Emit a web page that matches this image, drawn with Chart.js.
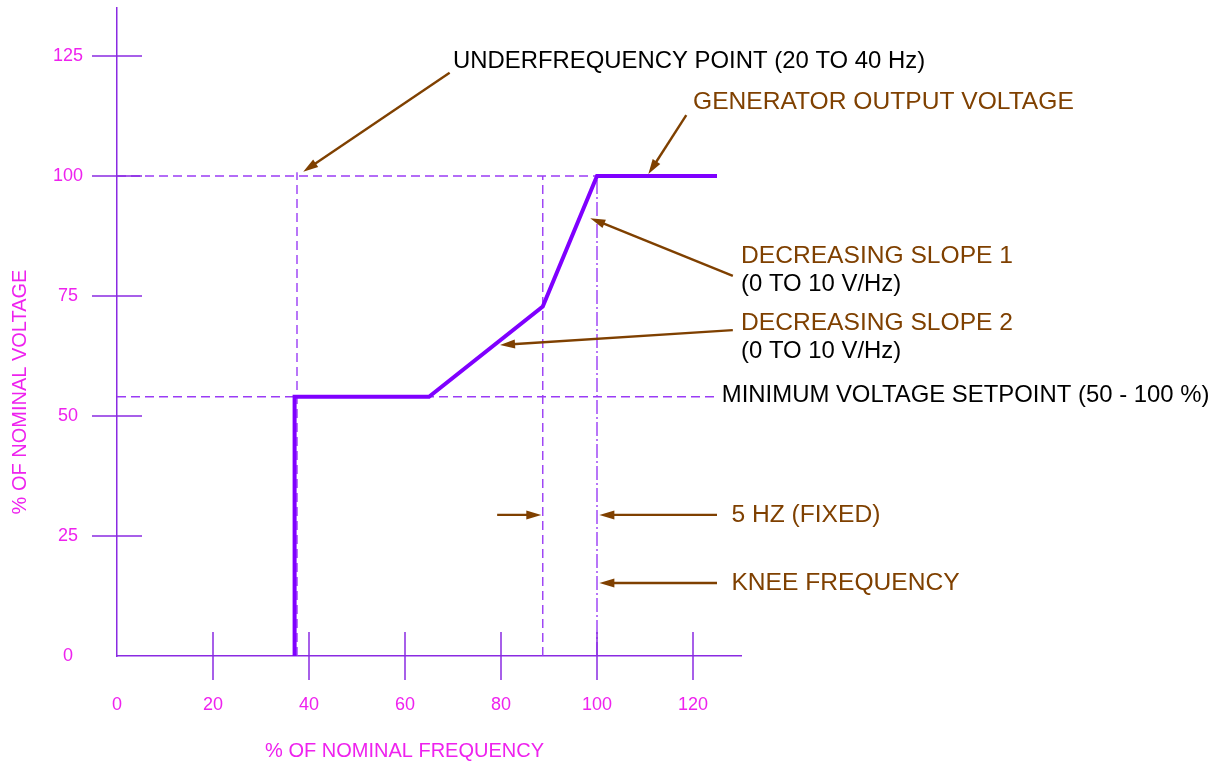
<!DOCTYPE html>
<html><head><meta charset="utf-8">
<script src="https://cdn.jsdelivr.net/npm/chart.js@4.4.0/dist/chart.umd.min.js"></script>
<style>html,body{margin:0;padding:0;background:#fff;} #wrap{width:1217px;height:763px;position:relative;}</style>
</head><body><div id="wrap"><canvas id="c" width="1217" height="763"></canvas></div>
<script>
// ---- data ----
const xTickValues = [0, 20, 40, 60, 80, 100, 120];
const yTickValues = [0, 25, 50, 75, 100, 125];
const xTickMarks = [20, 40, 60, 80, 100, 120];
const yTickMarks = [25, 50, 75, 100, 125];
const curveFreq = [37, 37, 65, 88.7, 100, 125];
const curveVolt = [0, 54, 54, 72.8, 100, 100];
const guideTopFreq = [0, 100];      const guideTopVolt = [100, 100];
const guideMinFreq = [0, 124.5];    const guideMinVolt = [54, 54];
const guideUfFreq = [37.5, 37.5];   const guideUfVolt = [0, 100.8];
const guideSlopeFreq = [88.7, 88.7]; const guideSlopeVolt = [0, 100];
const guideKneeFreq = [100, 100];   const guideKneeVolt = [0, 100];

const labelTexts = [
  {t: 'UNDERFREQUENCY POINT (20 TO 40 Hz)', x: 70, y: 123.8, c: 'k'},
  {t: 'GENERATOR OUTPUT VOLTAGE', x: 120, y: 115.4, c: 'b'},
  {t: 'DECREASING SLOPE 1', x: 130, y: 83.3, c: 'b'},
  {t: '(0 TO 10 V/Hz)', x: 130, y: 77.5, c: 'k'},
  {t: 'DECREASING SLOPE 2', x: 130, y: 69.4, c: 'b'},
  {t: '(0 TO 10 V/Hz)', x: 130, y: 63.5, c: 'k'},
  {t: 'MINIMUM VOLTAGE SETPOINT (50 - 100 %)', x: 126, y: 54.2, c: 'k'},
  {t: '5 HZ (FIXED)', x: 128, y: 29.4, c: 'b'},
  {t: 'KNEE FREQUENCY', x: 128, y: 15.2, c: 'b'}
];
const arrowList = [
  {from: [69.3, 121.5], to: [38.8, 100.9]},
  {from: [118.6, 112.7], to: [110.7, 100.4]},
  {from: [128.3, 79.2], to: [98.6, 91.2]},
  {from: [128.3, 67.9], to: [79.8, 64.8]},
  {from: [125, 29.4], to: [100.5, 29.4]},
  {from: [79.2, 29.4], to: [88.4, 29.4]},
  {from: [125, 15.2], to: [100.5, 15.2]}
];
const xTitle = '% OF NOMINAL FREQUENCY';
const yTitle = '% OF NOMINAL VOLTAGE';

// ---- styles ----
const AXIS = '#8a2be2';
const CURVE = '#7f00ff';
const GUIDE = '#9a3cf5';
const MAGENTA = '#ee22ee';
const BROWN = '#7f4000';
const FONT = '"Liberation Sans", Arial, sans-serif';

function pts(xs, ys) { return xs.map((x, i) => ({x: x, y: ys[i]})); }
function guide(xs, ys, dash) {
  return {data: pts(xs, ys), showLine: true, borderColor: GUIDE, borderWidth: 1.4,
    borderDash: dash || [9, 5], pointRadius: 0, fill: false, tension: 0};
}
function noPad(s) { s.paddingTop = 0; s.paddingBottom = 0; s.paddingLeft = 0; s.paddingRight = 0; }

const overlay = {
  id: 'overlay',
  afterDraw(chart) {
    const ctx = chart.ctx, xs = chart.scales.x, ys = chart.scales.y;
    const X = v => xs.getPixelForValue(v), Y = v => ys.getPixelForValue(v);
    ctx.save();
    // crossing tick marks
    ctx.strokeStyle = AXIS; ctx.lineWidth = 1.5;
    ctx.beginPath();
    yTickMarks.forEach(v => { ctx.moveTo(X(0) - 25, Y(v)); ctx.lineTo(X(0) + 25, Y(v)); });
    xTickMarks.forEach(v => { ctx.moveTo(X(v), Y(0) - 24); ctx.lineTo(X(v), Y(0) + 24); });
    ctx.stroke();
    // arrows
    ctx.strokeStyle = BROWN; ctx.fillStyle = BROWN; ctx.lineWidth = 2.4;
    arrowList.forEach(a => {
      const x1 = X(a.from[0]), y1 = Y(a.from[1]), x2 = X(a.to[0]), y2 = Y(a.to[1]);
      const ang = Math.atan2(y2 - y1, x2 - x1), L = 15, W = 4.5;
      const bx = x2 - L * Math.cos(ang), by = y2 - L * Math.sin(ang);
      ctx.beginPath(); ctx.moveTo(x1, y1); ctx.lineTo(bx + 3 * Math.cos(ang), by + 3 * Math.sin(ang)); ctx.stroke();
      ctx.beginPath();
      ctx.moveTo(x2, y2);
      ctx.lineTo(bx + W * Math.sin(ang), by - W * Math.cos(ang));
      ctx.lineTo(bx - W * Math.sin(ang), by + W * Math.cos(ang));
      ctx.closePath(); ctx.fill();
    });
    // texts
    ctx.textBaseline = 'middle'; ctx.textAlign = 'left';
    labelTexts.forEach(l => {
      ctx.fillStyle = l.c === 'b' ? BROWN : '#000';
      ctx.font = (l.c === 'b' ? 24.6 : 23.9) + 'px ' + FONT;
      ctx.fillText(l.t, X(l.x), Y(l.y));
    });
    // axis titles
    ctx.fillStyle = MAGENTA; ctx.font = '20px ' + FONT; ctx.textAlign = 'center';
    ctx.fillText(xTitle, X(59.9), Y(-19.8));
    ctx.translate(X(-20.2), Y(55)); ctx.rotate(-Math.PI / 2);
    ctx.fillText(yTitle, 0, 0);
    ctx.restore();
  }
};

new Chart(document.getElementById('c'), {
  type: 'scatter',
  data: {datasets: [
    {data: pts(curveFreq, curveVolt), showLine: true, borderColor: CURVE, borderWidth: 4,
      pointRadius: 0, fill: false, tension: 0, borderJoinStyle: 'miter'},
    guide(guideTopFreq, guideTopVolt),
    guide(guideMinFreq, guideMinVolt),
    guide(guideUfFreq, guideUfVolt),
    guide(guideSlopeFreq, guideSlopeVolt),
    guide(guideKneeFreq, guideKneeVolt, [14, 3, 2, 3])
  ]},
  options: {
    responsive: false, animation: false, devicePixelRatio: 1,
    layout: {padding: {left: 0, top: 8, right: 476, bottom: 0}, autoPadding: false},
    plugins: {legend: {display: false}, tooltip: {enabled: false}},
    scales: {
      x: {type: 'linear', min: 0, max: 130,
        afterBuildTicks: s => { s.ticks = xTickValues.map(v => ({value: v})); },
        afterFit: s => { s.height = 107; noPad(s); },
        grid: {display: false, drawTicks: false},
        border: {display: true, color: AXIS, width: 1.5},
        ticks: {color: MAGENTA, font: {family: FONT, size: 18}, padding: 38, maxRotation: 0, autoSkip: false}
      },
      y: {type: 'linear', min: 0, max: 135,
        afterBuildTicks: s => { s.ticks = yTickValues.map(v => ({value: v})); },
        afterFit: s => { s.width = 117; noPad(s); },
        grid: {display: false, drawTicks: false},
        border: {display: true, color: AXIS, width: 1.5},
        ticks: {color: MAGENTA, font: {family: FONT, size: 18}, padding: 34, crossAlign: 'center', autoSkip: false}
      }
    }
  },
  plugins: [overlay]
});
</script></body></html>
